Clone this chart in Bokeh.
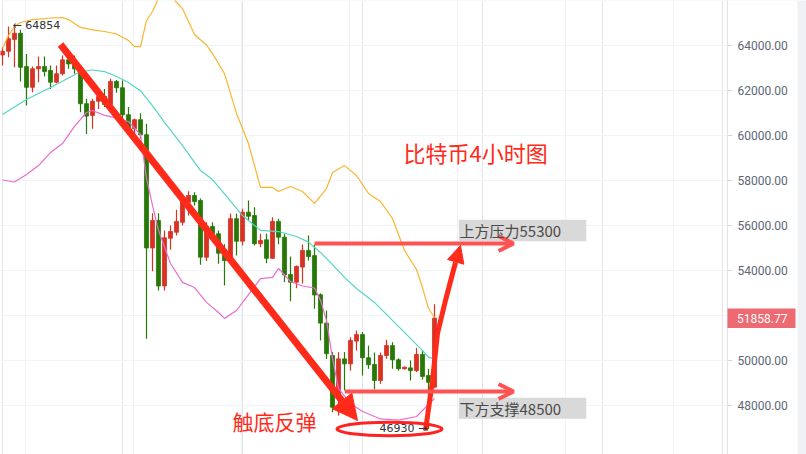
from bokeh.plotting import figure
from bokeh.models import (Range1d, FixedTicker, PrintfTickFormatter, Label, Arrow,
                          NormalHead, OpenHead, Grid, ColumnDataSource)
from bokeh.embed import file_html
from bokeh.resources import INLINE

# ---------------- data (BTC 4h candles) ----------------
opens = [63560, 63720, 64250, 64520, 63040, 62120, 62940, 63040, 62870, 62350,
         62720, 63340, 63160, 62940, 61390, 60870, 61500, 61710, 61360, 62380,
         62100, 60900, 60280, 60680, 60010, 54980, 56200, 53290, 55410, 55680,
         56120, 57010, 57310, 57090, 54570, 55930, 55610, 54750, 54420, 56280,
         55280, 56570, 56420, 55170, 55340, 54520, 56160, 55460, 53800, 53460,
         54130, 54870, 54640, 52900, 51640, 50200, 48290, 50050, 49830, 50840,
         51130, 50100, 49800, 49090, 50200, 50640, 50010, 49610, 49650, 49530,
         50250, 49310, 48790]
highs = [63900, 64820, 64854, 64680, 63600, 63040, 63490, 63490, 63090, 63090,
         63530, 63760, 63530, 63010, 61610, 61610, 62050, 62050, 62500, 62450,
         62420, 61240, 60720, 60970, 60500, 56520, 56520, 55760, 55980, 56680,
         57310, 57500, 57460, 57180, 56120, 56120, 55760, 55140, 56500, 56500,
         56720, 57090, 56790, 55610, 55610, 56350, 56280, 55610, 54600, 54200,
         55130, 55530, 55130, 52960, 52200, 50350, 50350, 50350, 51010, 51310,
         51240, 50640, 50330, 50330, 50900, 50790, 50070, 49710, 49980, 50540,
         50420, 49610, 52480]
lows = [63090, 63460, 63010, 62380, 61310, 61900, 62350, 62600, 62050, 62300,
        62640, 62940, 62720, 61010, 60050, 60280, 61160, 61240, 61240, 61880,
        60720, 60280, 59830, 59830, 50940, 53950, 53090, 53090, 54900, 55530,
        55980, 56420, 56870, 54230, 54400, 55390, 54280, 53310, 54350, 54640,
        55090, 56200, 55090, 55010, 54300, 54500, 55140, 53460, 52610, 53190,
        53400, 54420, 52280, 50870, 50050, 47680, 47530, 48650, 49530, 50420,
        49310, 49610, 48690, 48940, 50050, 49610, 49530, 49570, 49090, 49460,
        49130, 46930, 48780]
closes = [63720, 64280, 64520, 63010, 62120, 62940, 63040, 62820, 62350, 62720,
          63340, 63160, 62940, 61390, 60840, 61500, 61710, 61360, 62380, 62100,
          60900, 60300, 60680, 60010, 54980, 56200, 53290, 55430, 55710, 56160,
          57090, 57310, 57040, 54570, 55930, 55610, 54750, 54420, 56280, 55280,
          56570, 56390, 55170, 55310, 54520, 56160, 55460, 53780, 53460, 54160,
          54870, 54600, 52890, 51640, 50280, 47900, 50050, 49830, 50870, 51130,
          50100, 49790, 49090, 50200, 50640, 50010, 49610, 49680, 49530, 50250,
          49270, 49010, 51858.77]

# Bollinger bands, read at sample candles
upper_idx = [0, 1, 2, 3, 5, 8, 10, 11, 13, 15, 17, 19, 21, 22, 23, 24, 25, 26, 27, 28,
             29, 30, 32, 34, 35, 37, 39, 41, 43, 45, 46, 48, 50, 52, 54, 55, 57, 59, 61, 63,
             65, 67, 69, 70, 71, 72]
upper_vals = [63850, 64420, 64820, 65000, 65130, 65200, 65220, 65130, 64780, 64670,
              64600, 64490, 64200, 63930, 63930, 65090, 65490, 66070, 66330, 66200,
              65890, 65620, 64470, 64000, 63620, 62730, 60960, 59620, 57670, 57670,
              57490, 57710, 57490, 56960, 57620, 58330, 58640, 58200, 57400, 57040,
              56290, 54870, 54020, 53220, 52290, 51890]
mid_idx = [0, 4, 8, 11, 13, 15, 17, 19, 21, 23, 25, 27, 30, 33, 35, 37, 40, 43, 46, 49,
           51, 53, 55, 57, 59, 62, 65, 68, 70, 71, 72]
mid_vals = [60910, 61580, 62110, 62530, 62820, 62890, 62820, 62600, 62330, 61960,
            61310, 60560, 59530, 58420, 58020, 57380, 56420, 55760, 55710, 55490,
            55240, 54780, 54240, 53670, 53180, 52560, 51760, 50960, 50420, 50130, 50040]
low_idx = [0, 2, 4, 6, 8, 10, 12, 14, 15, 17, 19, 21, 23, 24, 25, 26, 28, 30, 32, 34,
           36, 37, 39, 41, 43, 45, 46, 48, 50, 52, 53, 54, 55, 56, 58, 60, 63, 66, 69, 71, 72]
low_vals = [58000, 57910, 58240, 58640, 59220, 59620, 60380, 61000, 61090, 60870,
            60760, 60600, 60020, 58070, 56870, 55760, 54290, 53450, 53220, 52560,
            52110, 51850, 52200, 52910, 53620, 53670, 54070, 53490, 53290, 53200,
            52650, 51760, 50070, 48730, 48070, 47710, 47380, 47330, 47490, 48020, 48290]

axis_ticks = [48000, 50000, 54000, 56000, 58000, 60000, 62000, 64000, 66000]
grid_ticks = [48000, 50000, 52000, 54000, 56000, 58000, 60000, 62000, 64000, 66000]
vgrid_ticks = [3.83, 21.83, 39.83, 57.83, 75.83, 93.83, 111.83]

last_price = 51858.77
resistance = 55180
support = 48600

UP = "#d73223"
DOWN = "#287809"
ANN = "#ff2a1a"
HLINE = "#ff5252"

# layout constants (candle-index units on x)
X0, X1 = -0.333, 134.0
AXIS_X = 120.833          # price-scale line position
Y0, Y1 = 45800, 65978

# ---------------- figure ----------------
p = figure(frame_width=806, frame_height=454, min_border=0,
           x_range=Range1d(X0, X1), y_range=Range1d(Y0, Y1),
           x_axis_location=None, y_axis_location="right",
           output_backend="svg", toolbar_location=None,
           background_fill_color="white", border_fill_color="white")
p.outline_line_color = None

yax = p.yaxis[0]
yax.fixed_location = AXIS_X
yax.ticker = FixedTicker(ticks=axis_ticks)
yax.formatter = PrintfTickFormatter(format="%.2f")
yax.major_label_text_font = "Roboto"
yax.major_label_text_font_size = "12px"
yax.major_label_text_color = "#5d6677"
yax.axis_line_color = "#e0e3eb"
yax.major_tick_line_color = "#d5d9e2"
yax.major_tick_out = 5
yax.major_tick_in = 0
yax.minor_tick_line_color = None
yax.major_label_standoff = 5

p.ygrid.ticker = FixedTicker(ticks=grid_ticks)
p.ygrid.grid_line_color = "#f0f3fa"
p.add_layout(Grid(dimension=0, ticker=FixedTicker(ticks=vgrid_ticks),
                  grid_line_color="#f0f3fa"))

# price-scale panel background (covers grid right of the scale line)
p.quad(left=[AXIS_X], right=[X1], top=[Y1], bottom=[Y0],
       fill_color="white", line_color=None)
p.quad(left=[132.5], right=[X1], top=[Y1], bottom=[Y0],
       fill_color="#eff1f4", line_color=None)

# ---------------- candles ----------------
idx = list(range(len(opens)))
colors = [UP if c >= o else DOWN for o, c in zip(opens, closes)]
src = ColumnDataSource(dict(
    x=idx, o=opens, h=highs, l=lows, c=closes,
    top=[max(o, c) for o, c in zip(opens, closes)],
    bot=[min(o, c) for o, c in zip(opens, closes)],
    col=colors))
p.segment(x0="x", y0="h", x1="x", y1="l", color="col", line_width=1.2, source=src)
p.vbar(x="x", width=0.68, top="top", bottom="bot", fill_color="col",
       line_color="col", line_width=0.8, source=src)

# ---------------- Bollinger bands ----------------
p.line(upper_idx, upper_vals, line_color="#f9b52e", line_width=1.2)
p.line(mid_idx, mid_vals, line_color="#55d5c2", line_width=1.2)
p.line(low_idx, low_vals, line_color="#e96dcf", line_width=1.2)

# ---------------- annotations ----------------
p.add_layout(Arrow(x_start=9.67, y_start=64022, x_end=59.17, y_end=47311,
                   line_color=ANN, line_width=7,
                   end=NormalHead(size=25, fill_color=ANN, line_color=ANN, line_width=1)))
p.add_layout(Arrow(x_start=52, y_start=resistance, x_end=85.17, y_end=resistance,
                   line_color=HLINE, line_width=4,
                   end=OpenHead(size=15, line_color=HLINE, line_width=4)))
p.add_layout(Arrow(x_start=57.05, y_start=support, x_end=85.17, y_end=support,
                   line_color=HLINE, line_width=4,
                   end=OpenHead(size=15, line_color=HLINE, line_width=4)))
rb_x = [70.5, 71.67, 72.5, 73.83, 75.5]
rb_y = [46867, 49089, 51178, 52644, 54333]
p.line(rb_x, rb_y, line_color=ANN, line_width=5)
p.add_layout(Arrow(x_start=75.5, y_start=54333, x_end=76.33, y_end=55089,
                   line_color=ANN, line_width=5,
                   end=NormalHead(size=17, fill_color=ANN, line_color=ANN, line_width=1)))
p.ellipse(x=[64.5], y=[46933], width=17.5, height=600, fill_alpha=0,
          line_color="#ff2222", line_width=3)

p.quad(left=[76.05, 76.05], right=[97.3, 97.3], top=[56231, 48320],
       bottom=[55280, 47387], fill_color="#d9d9d9", line_color=None)

p.add_layout(Label(x=76.17, y=55756, text="上方压力55300", text_font="Noto Sans CJK SC",
                   text_font_size="15px", text_color="#4a4a4a", text_baseline="middle"))
p.add_layout(Label(x=76.17, y=47844, text="下方支撑48500", text_font="Noto Sans CJK SC",
                   text_font_size="15px", text_color="#4a4a4a", text_baseline="middle"))
p.add_layout(Label(x=66.83, y=59245, text="比特币4小时图", text_font="Noto Sans CJK SC",
                   text_font_size="22px", text_color=ANN, text_baseline="middle"))
p.add_layout(Label(x=38.33, y=47267, text="触底反弹", text_font="Noto Sans CJK SC",
                   text_font_size="21px", text_color=ANN, text_baseline="middle"))
p.add_layout(Label(x=1.67, y=64867, text="\u2190 64854", text_font="DejaVu Sans",
                   text_font_size="11px", text_color="#333333", text_baseline="middle"))
p.add_layout(Label(x=62.83, y=46956, text="46930 \u2192", text_font="DejaVu Sans",
                   text_font_size="11px", text_color="#333333", text_baseline="middle"))

# last price tag on the price scale
tag = p.quad(left=[AXIS_X], right=[132.17], top=[52289], bottom=[51422],
             fill_color="#ee6a72", line_color=None)
tag.level = "annotation"
p.add_layout(Label(x=122.42, y=last_price, text="51858.77", text_font="Roboto",
                   text_font_size="12px", text_color="white", text_baseline="middle"))

open("out.html", "w").write(file_html(p, INLINE))
